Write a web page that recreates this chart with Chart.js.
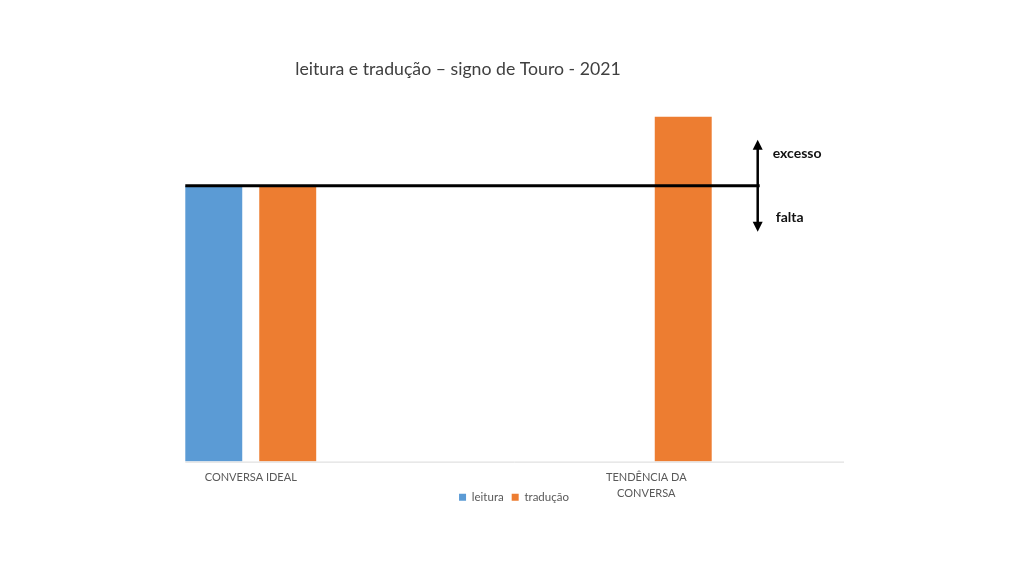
<!DOCTYPE html>
<html>
<head>
<meta charset="utf-8">
<script src="https://cdn.jsdelivr.net/npm/chart.js@4/dist/chart.umd.min.js"></script>
<style>
  html, body { margin: 0; padding: 0; background: #fff; }
  #wrap { width: 1024px; height: 576px; }
</style>
</head>
<body>
<div id="wrap"><canvas id="grafico"></canvas></div>
<script>
// dados
const categorias = ['CONVERSA IDEAL', ['TENDÊNCIA DA', 'CONVERSA']];
const leitura = [8, null];
const traducao = [8, 10];
const nivelIdeal = 8;   // linha de referência (excesso / falta)

const cinza = '#595959';

// linha de referência com seta vertical e rótulos
const referencia = {
    id: 'referencia',
    afterLayout(chart) {
        // título e legenda deslocados como no original
        if (chart.titleBlock) { chart.titleBlock.left -= 54; chart.titleBlock.right -= 54; }
        if (chart.legend) {
            chart.legend.left += 2; chart.legend.right += 2;
            chart.legend.top -= 26; chart.legend.bottom -= 26;
        }
    },
    afterDatasetsDraw(chart) {
        const ctx = chart.ctx;
        const y = chart.scales.y.getPixelForValue(nivelIdeal);
        const primeira = chart.getDatasetMeta(0).data[0];
        const ultima = chart.getDatasetMeta(1).data[1];
        const x0 = primeira.x - primeira.width / 2;
        const xs = ultima.x + ultima.width / 2 + 46;
        const base = chart.scales.y.getPixelForValue(0);

        ctx.save();
        // eixo horizontal claro
        ctx.strokeStyle = '#d9d9d9';
        ctx.lineWidth = 1;
        ctx.beginPath();
        ctx.moveTo(x0, base + 0.5);
        ctx.lineTo(chart.chartArea.right, base + 0.5);
        ctx.stroke();

        ctx.strokeStyle = '#000';
        ctx.fillStyle = '#000';
        ctx.lineWidth = 3;
        ctx.beginPath();
        ctx.moveTo(x0, y);
        ctx.lineTo(xs + 2, y);
        ctx.stroke();

        const topo = y - 46, fundo = y + 46;
        ctx.lineWidth = 2.5;
        ctx.beginPath();
        ctx.moveTo(xs, topo + 6);
        ctx.lineTo(xs, fundo - 6);
        ctx.stroke();
        ctx.beginPath();
        ctx.moveTo(xs, topo); ctx.lineTo(xs - 5, topo + 10); ctx.lineTo(xs + 5, topo + 10); ctx.closePath();
        ctx.fill();
        ctx.beginPath();
        ctx.moveTo(xs, fundo); ctx.lineTo(xs - 5, fundo - 10); ctx.lineTo(xs + 5, fundo - 10); ctx.closePath();
        ctx.fill();

        ctx.font = 'bold 14px Lato';
        ctx.textBaseline = 'middle';
        ctx.textAlign = 'left';
        ctx.fillStyle = '#111';
        ctx.fillText('excesso', xs + 15, y - 32);
        ctx.fillText('falta', xs + 18, y + 32);
        ctx.restore();
    }
};

new Chart(document.getElementById('grafico'), {
    type: 'bar',
    data: {
        labels: categorias,
        datasets: [
            { label: 'leitura', data: leitura, backgroundColor: '#5B9BD5' },
            { label: 'tradução', data: traducao, backgroundColor: '#ED7D31' }
        ]
    },
    options: {
        responsive: true,
        maintainAspectRatio: false,
        animation: false,
        categoryPercentage: 0.374,
        barPercentage: 0.77,
        layout: { padding: { left: 0, right: 0, top: 0, bottom: 37 } },
        plugins: {
            title: {
                display: true,
                text: 'leitura e tradução – signo de Touro - 2021',
                color: '#404040',
                font: { family: 'Lato', size: 17.7, weight: 'normal', lineHeight: 1.2 },
                padding: { top: 59, bottom: 2 }
            },
            legend: {
                position: 'bottom',
                labels: {
                    boxWidth: 7, boxHeight: 7, padding: 8,
                    color: cinza,
                    font: { family: 'Lato', size: 11.5 }
                }
            },
            tooltip: { enabled: false }
        },
        scales: {
            x: {
                grid: { display: false, drawTicks: false },
                border: { display: false },
                ticks: {
                    color: cinza, padding: 8, maxRotation: 0,
                    font: { family: 'Lato', size: 11, lineHeight: 1.45 }
                }
            },
            y: {
                min: 0, max: 11,
                grid: { display: false },
                border: { display: false },
                ticks: { display: false },
                afterFit(s) { s.width = 53; }
            },
            y2: {
                position: 'right',
                min: 0, max: 11,
                grid: { display: false },
                border: { display: false },
                ticks: { display: false },
                afterFit(s) { s.width = 180; }
            }
        }
    },
    plugins: [referencia]
});
</script>
</body>
</html>
